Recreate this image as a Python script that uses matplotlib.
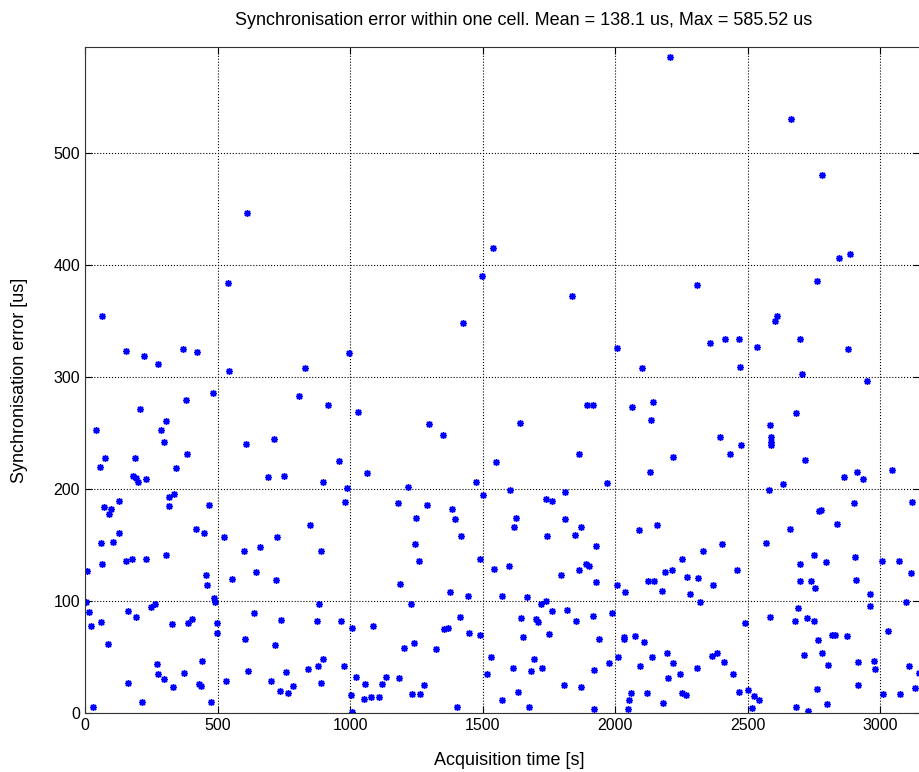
import matplotlib
matplotlib.use('Agg')
import matplotlib.pyplot as plt

plt.rcParams['font.family'] = ['Liberation Sans', 'DejaVu Sans']

# acquisition time [s] and sync error [us]
time_s = [
    2208, 2664, 2781, 2846, 2887, 610, 1539,
    538, 65, 153, 224, 274, 369, 423, 545,
    482, 380, 206, 307, 286, 42, 297, 606,
    714, 74, 190, 385, 55, 342, 182, 192,
    201, 230, 689, 750,
    1499, 1425, 997, 830, 808, 916, 1029, 1296,
    1352, 957, 1550, 1064, 899, 988, 1219, 1476,
    1837, 2310, 2006, 2357, 2101, 1893, 1915, 1642,
    2141, 2064, 2134, 1863, 2219, 2132, 1969, 1604,
    2761, 2610, 2604, 2696, 2534, 2878, 2414, 2466,
    2471, 2706, 2950, 2684, 2586, 2589, 2589, 2589,
    2395, 2475, 2434, 2715, 2862, 2914, 2936, 3043,
    2635, 2579,
    337, 317, 130, 73, 98, 91, 317, 467,
    420, 450, 130, 105, 59, 306, 154, 177,
    230, 64, 9, 456, 462, 523, 599, 662,
    723, 644, 554, 720, 487, 491, 3, 16,
    164, 193, 248, 265, 59, 24, 327, 388,
    405, 499, 497, 637, 740, 87, 604, 717,
    273, 276, 297, 374, 443, 162, 333, 431,
    436, 214, 29, 474, 533, 615, 703, 759,
    735, 764, 786,
    982, 1501, 1179, 1291, 1384, 1249, 1396, 848,
    1420, 1245, 890, 1261, 1492, 1544, 1190, 1376,
    1444, 1573, 884, 1229, 874, 966, 1007, 1086,
    1413, 1355, 1370, 1447, 1492, 1203, 1241, 1324,
    899, 878, 841, 976, 1532, 1517, 890, 1024,
    1057, 1136, 1121, 1186, 1278, 1234, 1263, 1003,
    1053, 1079, 1108, 1008, 1404, 1573,
    1812, 1740, 1761, 1625, 1620, 1812, 1871, 1744,
    1847, 1926, 2090, 2158, 2331, 2254, 1600, 1890,
    1900, 1863, 1795, 1926, 2007, 2039, 2125, 2147,
    2189, 2214, 2271, 2314, 2368, 2178, 2283, 2321,
    1669, 1740, 1720, 1761, 1819, 1644, 1702, 1710,
    1853, 1916, 1988, 1751, 1653, 1939, 2033, 2033,
    2075, 2107, 1693, 1613, 1682, 1724, 1920, 1977,
    2010, 2139, 2095, 2195, 2218, 2309, 2364, 2244,
    2199, 1807, 1873, 1632, 1676, 1921, 2058, 2053,
    2047, 2120, 2252, 2267, 2181,
    2900, 3121, 2769, 2776, 2837, 2658, 2404, 2570,
    2750, 2903, 2697, 2797, 3007, 3070, 3115, 2460,
    2697, 2739, 2755, 2910, 2960, 2962, 3096, 2690,
    2584, 2491, 2678, 2724, 2750, 3028, 2830, 2817,
    2873, 2765, 2384, 2410, 2712, 2781, 2804, 2917,
    2975, 2980, 3107, 3148, 2446, 2467, 2502, 2522,
    2544, 2516, 2760, 2915, 2682, 2729, 2800, 3012,
    3075, 3133,
]

sync_err_us = [
    585.5, 530, 480, 406, 410, 446, 415,
    384, 354.5, 323.5, 319, 312, 325, 322, 305,
    286, 279, 271.5, 260.5, 253, 253, 242, 240,
    245, 228, 228, 231, 220, 219, 212, 209.6,
    206.5, 209, 211, 212,
    390, 348, 321.5, 308, 283, 275, 269, 258,
    248, 225, 224, 214, 206, 200.6, 202, 206,
    372, 382, 326, 330, 308, 275, 275, 259,
    278, 273, 262, 231, 229, 215.5, 205.4, 199,
    385.5, 354.5, 350, 334, 327, 325, 334, 334,
    309, 302.5, 296, 268, 257, 246, 242, 239,
    246, 239, 231, 226, 211, 215, 209, 217,
    204.5, 199,
    195.6, 193, 189, 184, 182, 177.4, 185, 185.5,
    164.3, 160.5, 160.5, 153, 152, 141, 135.7, 137.5,
    137.5, 132.8, 126.5, 123, 114, 157, 144.7, 148,
    157, 126, 120, 119, 103, 99.4, 99.4, 90,
    91, 86, 94.4, 97, 81.5, 77.4, 79.2, 80,
    83.7, 80, 71.7, 89.6, 82.8, 61.3, 65.8, 60.7,
    44, 34.8, 30.4, 36, 46, 26.8, 23, 26.2,
    23.8, 10, 5.6, 9.5, 29, 37.8, 28.8, 36.6,
    20, 17.9, 23.8,
    188.7, 194.7, 187.5, 185.7, 182, 173.8, 173, 167.6,
    158, 150.6, 144.7, 136, 137.5, 128.6, 115.5, 108,
    104.5, 104.2, 97, 97, 82.4, 82.4, 76.2, 77.4,
    86, 75, 75.6, 71.2, 70, 57.8, 62.5, 56.9,
    48.5, 42, 39.6, 42, 50.3, 34.8, 27, 32.4,
    26.2, 32.4, 26.2, 31.5, 25, 17.2, 17.2, 15.8,
    12.5, 14.3, 14.3, 0.6, 5, 11.6,
    197, 190.8, 189.6, 173.8, 166.4, 173.5, 166.4, 158,
    159, 149.4, 163.4, 168, 144.7, 137.5, 131.3, 132.8,
    131, 127.4, 123, 117.3, 114.3, 107.8, 117.9, 117.9,
    126.2, 127.4, 121.4, 120.8, 114.3, 109, 106, 99.4,
    103.6, 100.3, 97, 90.8, 92.2, 84.8, 84, 81,
    82.4, 86.3, 89, 70.5, 67.6, 65.8, 68.1, 66,
    69, 63, 48.5, 39.9, 37.8, 40.5, 38.7, 44.7,
    50.3, 49.7, 42, 53.3, 44.4, 39.9, 50.6, 34.8,
    31.3, 25, 23, 19, 5.6, 3.3, 17.6, 11.6,
    3.6, 17.6, 17.6, 16, 8.9,
    187.3, 188.7, 180, 181, 168.8, 164, 150.6, 152,
    140.8, 139.6, 133.3, 134.8, 135.7, 135.7, 125.3, 127.4,
    117.9, 117.9, 111.6, 119, 106, 95.8, 99.4, 93.5,
    85.7, 80, 82.4, 84.8, 82.4, 73, 70, 70,
    68.8, 65.5, 53.6, 45.5, 52, 53.3, 43, 45.8,
    46.4, 39, 42, 36, 34.8, 19, 20.3, 15.5,
    11.6, 4.2, 21.4, 25, 5.1, 1.8, 8, 16.7,
    16.7, 22,
]

x_ticks = [0, 500, 1000, 1500, 2000, 2500, 3000]
y_ticks = [0, 100, 200, 300, 400, 500]

fig = plt.figure(figsize=(9.2, 7.72), dpi=100)
ax = fig.add_axes([85 / 920, 59 / 772, 835 / 920, 666 / 772])

ax.plot(time_s, sync_err_us, linestyle='none', marker=(8, 2, 0),
        markersize=5, markeredgewidth=1.0, color='#0000ff')

ax.set_xlim(0, 3150)
ax.set_ylim(0, 594.6)
ax.set_xticks(x_ticks)
ax.set_yticks(y_ticks)
ax.grid(True, linestyle=':', color='black', linewidth=0.8)
ax.tick_params(direction='in', labelsize=11.5, length=5, top=True, right=True)
for s in ax.spines.values():
    s.set_color('#333333')

ax.set_title('Synchronisation error within one cell. Mean = 138.1 us, Max = 585.52 us',
             fontsize=13, pad=16, x=(524 - 85) / 835)
ax.set_xlabel('Acquisition time [s]', fontsize=13, labelpad=14, x=(509 - 85) / 835)
ax.set_ylabel('Synchronisation error [us]', fontsize=13, labelpad=18)

fig.savefig('out.png', dpi=100)
